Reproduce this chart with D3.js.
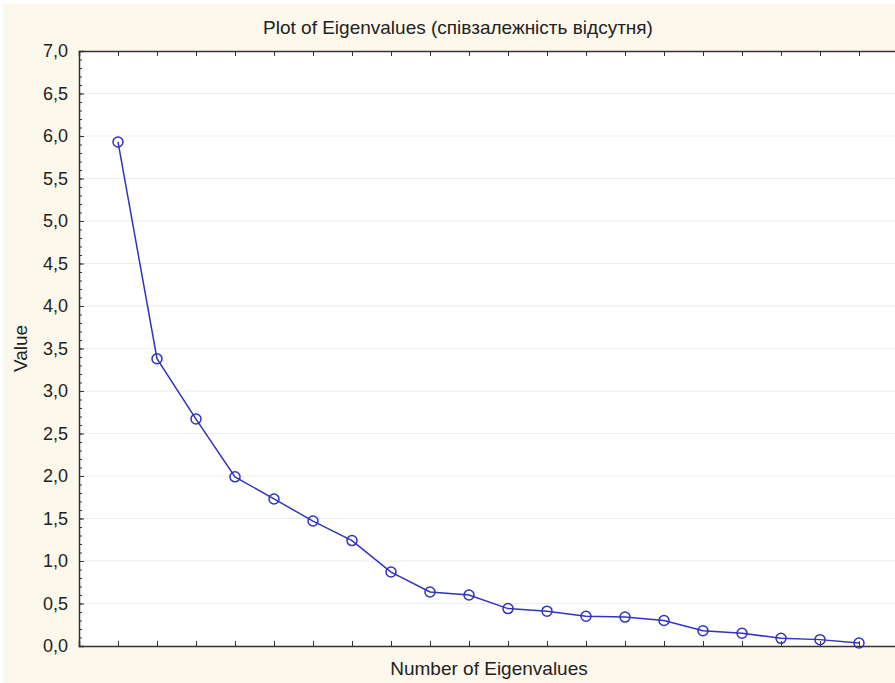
<!DOCTYPE html>
<html>
<head>
<meta charset="utf-8">
<script src="https://cdn.jsdelivr.net/npm/d3@7"></script>
<style>
  body { margin: 0; background: #fff; }
  text { font-family: "Liberation Sans", Arial, sans-serif; fill: #222; }
</style>
</head>
<body>
<script>
var eigenNumbers = [1, 2, 3, 4, 5, 6, 7, 8, 9, 10, 11, 12, 13, 14, 15, 16, 17, 18, 19, 20];
var eigenValues = [5.93, 3.38, 2.67, 1.99, 1.73, 1.47, 1.24, 0.87, 0.635, 0.60,
                   0.44, 0.41, 0.35, 0.34, 0.30, 0.18, 0.15, 0.09, 0.075, 0.035];
var yTicks = [0, 0.5, 1, 1.5, 2, 2.5, 3, 3.5, 4, 4.5, 5, 5.5, 6, 6.5, 7];

var titleText = "Plot of Eigenvalues (співзалежність відсутня)";
var xTitle = "Number of Eigenvalues";
var yTitle = "Value";

var width = 895,
    height = 683,
    plotLeft = 79, plotTop = 51, plotRight = 898, plotBottom = 646;

var svg = d3.select("body")
    .append("svg")
    .attr("width", width)
    .attr("height", height);

// cream background, white plot area
svg.append("rect")
    .attr("x", 3).attr("y", 4)
    .attr("width", width - 3).attr("height", height - 4)
    .attr("fill", "#fcf8ec");

var x = d3.scaleLinear().domain([0, 21]).range([plotLeft, plotRight]);
var y = d3.scaleLinear().domain([0, 7]).range([plotBottom, plotTop]);

svg.append("rect")
    .attr("x", plotLeft).attr("y", plotTop)
    .attr("width", plotRight - plotLeft).attr("height", plotBottom - plotTop)
    .attr("fill", "#fff");

// gridlines
svg.append("g")
    .selectAll("line")
    .data(yTicks.filter(function(d){ return d > 0 && d < 7; }))
    .enter().append("line")
    .attr("x1", plotLeft).attr("x2", plotRight)
    .attr("y1", function(d){ return y(d); })
    .attr("y2", function(d){ return y(d); })
    .attr("stroke", "#ebebeb")
    .attr("stroke-width", 1);

// minor ticks on y
var gyMinor = svg.append("g")
    .attr("transform", "translate(" + plotLeft + ",0)")
    .call(d3.axisLeft(y).ticks(70).tickSize(-3).tickFormat(""));
gyMinor.select(".domain").remove();
gyMinor.selectAll(".tick line").attr("stroke", "#333");

// axes
var yAxis = d3.axisLeft(y)
    .tickValues(yTicks)
    .tickSize(-5)
    .tickPadding(11)
    .tickFormat(function(d){ return d3.format(".1f")(d).replace(".", ","); });

var gy = svg.append("g")
    .attr("transform", "translate(" + plotLeft + ",0)")
    .call(yAxis);
gy.select(".domain").attr("stroke", "#333").attr("stroke-width", 1.5);
gy.selectAll(".tick line").attr("stroke", "#333");
gy.selectAll(".tick text")
    .style("font-size", "18px")
    .style("font-family", "'Liberation Sans', Arial, sans-serif")
    .attr("fill", "#222");

var gx = svg.append("g")
    .attr("transform", "translate(0," + plotBottom + ")")
    .call(d3.axisBottom(x).tickValues(eigenNumbers).tickSize(-5).tickFormat(""));
gx.select(".domain").attr("stroke", "#333").attr("stroke-width", 1.5);
gx.selectAll(".tick line").attr("stroke", "#333");

var gxTop = svg.append("g")
    .attr("transform", "translate(0," + plotTop + ")")
    .call(d3.axisTop(x).tickValues(eigenNumbers).tickSize(-5).tickFormat(""));
gxTop.select(".domain").attr("stroke", "#333").attr("stroke-width", 1.5);
gxTop.selectAll(".tick line").attr("stroke", "#333");

// line and points
var line = d3.line()
    .x(function(d, i){ return x(eigenNumbers[i]); })
    .y(function(d){ return y(d); });

svg.append("path")
    .datum(eigenValues)
    .attr("d", line)
    .attr("fill", "none")
    .attr("stroke", "#3232c0")
    .attr("stroke-width", 1.5);

svg.selectAll(".pt")
    .data(eigenValues)
    .enter().append("circle")
    .attr("class", "pt")
    .attr("cx", function(d, i){ return x(eigenNumbers[i]); })
    .attr("cy", function(d){ return y(d); })
    .attr("r", 5)
    .attr("fill", "none")
    .attr("stroke", "#3232c0")
    .attr("stroke-width", 1.5);

// titles
svg.append("text")
    .attr("x", 458).attr("y", 34)
    .attr("text-anchor", "middle")
    .style("font-size", "19px")
    .text(titleText);

svg.append("text")
    .attr("x", 489).attr("y", 675)
    .attr("text-anchor", "middle")
    .style("font-size", "19px")
    .text(xTitle);

svg.append("text")
    .attr("transform", "translate(27," + ((plotTop + plotBottom) / 2) + ") rotate(-90)")
    .attr("text-anchor", "middle")
    .style("font-size", "19px")
    .text(yTitle);
</script>
</body>
</html>
